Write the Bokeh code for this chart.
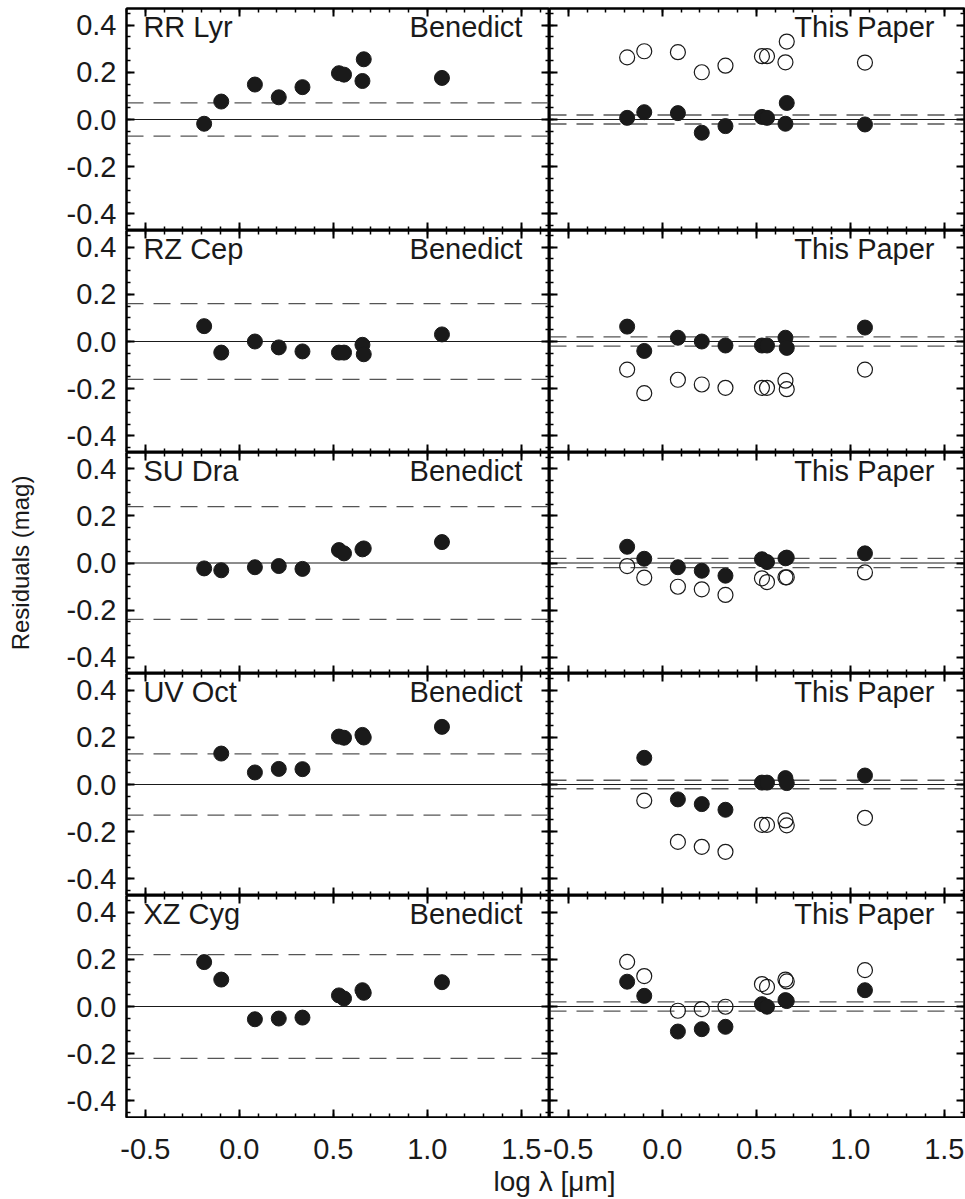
from bokeh.plotting import figure
from bokeh.models import (Range1d, LinearAxis, SingleIntervalTicker, FixedTicker,
                          NumeralTickFormatter, CustomJSTickFormatter, Span, Label,
                          ColumnDataSource)
from bokeh.layouts import column, row
from bokeh.embed import file_html
from bokeh.resources import INLINE

# ---------------- data ----------------
STARS = ["RR Lyr", "RZ Cep", "SU Dra", "UV Oct", "XZ Cyg"]
LEFT_TAG = "Benedict"
RIGHT_TAG = "This Paper"
LOGLAM = [-0.187, -0.096, 0.083, 0.210, 0.336, 0.530, 0.557, 0.655, 0.662, 1.078]

RRLYR_BEN = [-0.018, 0.076, 0.148, 0.094, 0.137, 0.196, 0.190, 0.163, 0.255, 0.176]
RZCEP_BEN = [0.065, -0.047, 0.000, -0.025, -0.042, -0.047, -0.047, -0.014, -0.054, 0.030]
SUDRA_BEN = [-0.023, -0.031, -0.018, -0.013, -0.025, 0.055, 0.041, 0.058, 0.062, 0.089]
UVOCT_BEN = [None, 0.131, 0.051, 0.066, 0.065, 0.203, 0.198, 0.210, 0.199, 0.244]
XZCYG_BEN = [0.188, 0.114, -0.054, -0.051, -0.047, 0.047, 0.034, 0.069, 0.058, 0.103]

RRLYR_TP_FILLED = [0.007, 0.031, 0.027, -0.056, -0.028, 0.011, 0.007, -0.018, 0.070, -0.021]
RZCEP_TP_FILLED = [0.063, -0.040, 0.016, 0.000, -0.017, -0.017, -0.017, 0.016, -0.027, 0.059]
SUDRA_TP_FILLED = [0.069, 0.018, -0.018, -0.033, -0.054, 0.016, 0.004, 0.020, 0.023, 0.041]
UVOCT_TP_FILLED = [None, 0.113, -0.063, -0.083, -0.107, 0.008, 0.008, 0.027, 0.006, 0.038]
XZCYG_TP_FILLED = [0.105, 0.045, -0.106, -0.096, -0.086, 0.010, -0.001, 0.027, 0.023, 0.069]

RRLYR_TP_OPEN = [0.263, 0.289, 0.285, 0.200, 0.228, 0.268, 0.268, 0.242, 0.330, 0.241]
RZCEP_TP_OPEN = [-0.119, -0.219, -0.162, -0.182, -0.196, -0.196, -0.196, -0.166, -0.202, -0.119]
SUDRA_TP_OPEN = [-0.013, -0.062, -0.101, -0.112, -0.136, -0.065, -0.081, -0.061, -0.061, -0.040]
UVOCT_TP_OPEN = [None, -0.068, -0.243, -0.264, -0.285, -0.171, -0.171, -0.152, -0.173, -0.141]
XZCYG_TP_OPEN = [0.189, 0.129, -0.018, -0.011, -0.001, 0.095, 0.083, 0.114, 0.106, 0.154]

BEN_SIGMA = [0.07, 0.16, 0.24, 0.13, 0.22]
TP_SIGMA = [0.019, 0.02, 0.02, 0.018, 0.02]

XTICKS = [-0.5, 0.0, 0.5, 1.0, 1.5]
XLABEL = "log λ [μm]"
YLABEL = "Residuals (mag)"

BEN = [RRLYR_BEN, RZCEP_BEN, SUDRA_BEN, UVOCT_BEN, XZCYG_BEN]
TP_FILLED = [RRLYR_TP_FILLED, RZCEP_TP_FILLED, SUDRA_TP_FILLED, UVOCT_TP_FILLED, XZCYG_TP_FILLED]
TP_OPEN = [RRLYR_TP_OPEN, RZCEP_TP_OPEN, SUDRA_TP_OPEN, UVOCT_TP_OPEN, XZCYG_TP_OPEN]

# ---------------- geometry / style ----------------
FONT = "Liberation Sans"
INK = "#1a1a1a"
PX_PER_UNIT = 188.0
X_START = -0.6
LEFT_FRAME_W = 423
RIGHT_FRAME_W = 415
LEFT_BORDER = 126
TOP_BORDER = 8
X_LEFT = (X_START, X_START + LEFT_FRAME_W / PX_PER_UNIT)
X_RIGHT = (X_START, X_START + RIGHT_FRAME_W / PX_PER_UNIT)
Y_RANGE = (-0.47, 0.47)
FRAME_HS = [222, 222, 221, 222, 222]
TICK_FS = "29px"
TAG_FS = "29px"
TAG_Y = 0.39


def style_axis(ax, labels):
    ax.axis_line_color = "black"
    ax.axis_line_width = 2
    ax.major_tick_in = 8
    ax.major_tick_out = 0
    ax.minor_tick_in = 4
    ax.minor_tick_out = 0
    ax.major_tick_line_color = "black"
    ax.minor_tick_line_color = "black"
    ax.major_tick_line_width = 2
    ax.minor_tick_line_width = 1.5
    if labels:
        ax.major_label_text_font = FONT
        ax.major_label_text_font_size = TICK_FS
        ax.major_label_text_color = INK
        ax.major_label_standoff = 10
    else:
        ax.major_label_text_font_size = "0px"
        ax.major_label_text_color = None
        ax.major_label_standoff = 0


def xt():
    return SingleIntervalTicker(interval=0.5, num_minor_ticks=5)


def yt():
    return SingleIntervalTicker(interval=0.2, num_minor_ticks=4)


def pts(ys):
    xs = [x for x, y in zip(LOGLAM, ys) if y is not None]
    yy = [y for y in ys if y is not None]
    return ColumnDataSource(dict(x=xs, y=yy))


def tag(x, text, align):
    return Label(x=x, y=TAG_Y, text=text, text_align=align,
                 text_baseline="middle", text_font=FONT,
                 text_font_size=TAG_FS, text_color=INK)


def make_panel(r, left):
    top_b = TOP_BORDER if r == 0 else 0
    bot_b = 1 if r == 4 else 0
    if left:
        w = LEFT_BORDER + LEFT_FRAME_W
        xr = X_LEFT
        mbl, mbr = LEFT_BORDER, 0
    else:
        w = RIGHT_FRAME_W + 1
        xr = X_RIGHT
        mbl, mbr = 0, 1
    p = figure(width=w, height=FRAME_HS[r] + top_b + bot_b,
               x_range=Range1d(*xr), y_range=Range1d(*Y_RANGE),
               output_backend="svg", toolbar_location=None,
               min_border_left=mbl, min_border_right=mbr,
               min_border_top=top_b, min_border_bottom=bot_b)
    p.xgrid.visible = False
    p.ygrid.visible = False
    p.outline_line_color = "black"
    p.outline_line_width = 2
    p.background_fill_color = "white"

    p.xaxis[0].ticker = xt()
    style_axis(p.xaxis[0], False)
    p.yaxis[0].ticker = yt()
    p.yaxis[0].formatter = NumeralTickFormatter(format="0.0")
    style_axis(p.yaxis[0], left)
    top = LinearAxis(ticker=xt())
    style_axis(top, False)
    p.add_layout(top, "above")
    rgt = LinearAxis(ticker=yt())
    style_axis(rgt, False)
    p.add_layout(rgt, "right")

    p.add_layout(Span(location=0, dimension="width", line_color=INK,
                      line_width=1, level="underlay"))
    sig = BEN_SIGMA[r] if left else TP_SIGMA[r]
    for s in (sig, -sig):
        p.add_layout(Span(location=s, dimension="width", line_color="#555555",
                          line_width=1.3, line_dash="17 10", level="underlay"))

    if left:
        p.scatter("x", "y", source=pts(BEN[r]), size=15, marker="circle",
                  fill_color=INK, line_color=INK)
        p.add_layout(tag(-0.51, STARS[r], "left"))
        p.add_layout(tag(1.506, LEFT_TAG, "right"))
    else:
        p.scatter("x", "y", source=pts(TP_OPEN[r]), size=15, marker="circle",
                  fill_color=None, line_color=INK, line_width=1.2)
        p.scatter("x", "y", source=pts(TP_FILLED[r]), size=15, marker="circle",
                  fill_color=INK, line_color=INK)
        p.add_layout(tag(1.448, RIGHT_TAG, "right"))

    if left and r == 2:
        ax = p.yaxis[0]
        ax.axis_label = YLABEL
        ax.axis_label_text_font = FONT
        ax.axis_label_text_font_size = "24px"
        ax.axis_label_text_font_style = "normal"
        ax.axis_label_text_color = INK
        ax.axis_label_standoff = 30
    return p


rows = []
for r in range(5):
    rows.append(row(make_panel(r, True), make_panel(r, False)))

# shared strip under both bottom panels: tick labels (axis above) + x label
TOTAL_W = LEFT_BORDER + LEFT_FRAME_W + RIGHT_FRAME_W + 1
shift = LEFT_FRAME_W / PX_PER_UNIT
STRIP_H = 81
STRIP_TOP = 48
tf = figure(width=TOTAL_W, height=STRIP_H,
            x_range=Range1d(X_START, X_START + (TOTAL_W - LEFT_BORDER) / PX_PER_UNIT),
            y_range=Range1d(0, STRIP_H - STRIP_TOP), y_axis_type=None,
            x_axis_location="above",
            output_backend="svg", toolbar_location=None,
            min_border_left=LEFT_BORDER, min_border_right=0,
            min_border_top=STRIP_TOP, min_border_bottom=0)
tf.outline_line_color = None
tf.xgrid.visible = False
tax = tf.xaxis[0]
tax.ticker = FixedTicker(ticks=XTICKS + [t + shift for t in XTICKS])
tax.formatter = CustomJSTickFormatter(
    args=dict(shift=shift, cut=X_LEFT[1] - 0.05),
    code="const v = tick > cut ? tick - shift : tick; return v.toFixed(1);")
tax.axis_line_color = None
tax.major_tick_line_color = None
tax.minor_tick_line_color = None
tax.major_tick_out = 0
tax.major_tick_in = 0
tax.major_label_text_font = FONT
tax.major_label_text_font_size = TICK_FS
tax.major_label_text_color = INK
tax.major_label_standoff = 8

tf.add_layout(Label(x=2.001, y=18, text=XLABEL, text_align="right",
                    text_baseline="middle", text_font=FONT,
                    text_font_size="28px", text_color=INK))

layout = column(*rows, tf)
open("out.html", "w").write(file_html(layout, INLINE))
